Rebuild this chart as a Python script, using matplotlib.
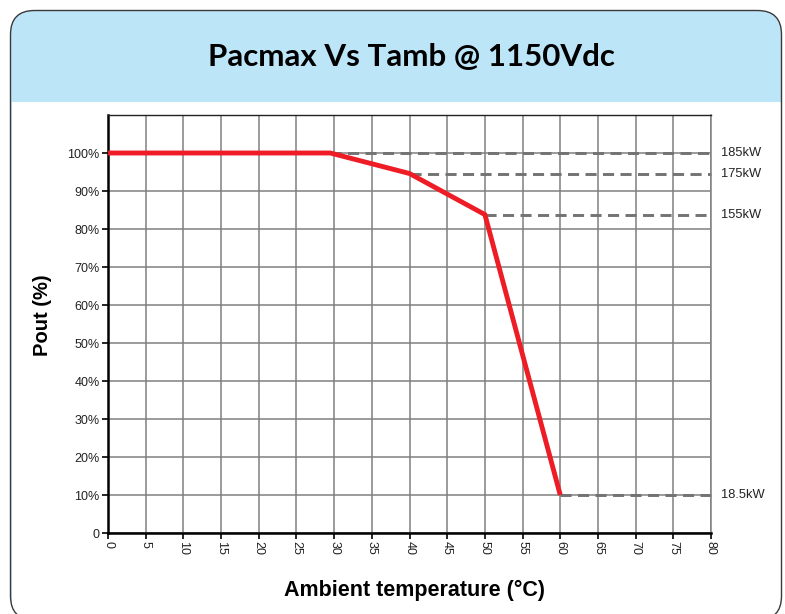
import matplotlib
matplotlib.use("Agg")
import matplotlib.pyplot as plt
from matplotlib.patches import FancyBboxPatch, Rectangle

# Derating curve data
temps = [0, 29.5, 40, 50, 60]
pout_pct = [100, 100, 94.6, 83.8, 10]

# Power plateaus (kW) and the temperature where each starts
plateau_kw = [185, 175, 155, 18.5]
plateau_start = [29.5, 40, 50, 60]
rated_kw = 185

x_ticks = list(range(0, 81, 5))
y_ticks = list(range(0, 101, 10))
y_tick_labels = ["0"] + [f"{v}%" for v in y_ticks[1:]]

title = "Pacmax Vs Tamb @ 1150Vdc"
xlabel = "Ambient temperature (°C)"
ylabel = "Pout (%)"

W, H = 785, 614
fig = plt.figure(figsize=(W / 100, H / 100), dpi=100)

def fx(px):
    return px / W

def fy(py):
    return 1 - py / H

# Framed panel with light-blue header
box_l, box_r, box_t, box_b = 10.5, 781.5, 10.5, 620
rad = 24
blue = FancyBboxPatch((fx(box_l), fy(box_b)), fx(box_r - box_l), (box_b - box_t) / H,
                      boxstyle=f"round,pad=0,rounding_size={rad / W}",
                      transform=fig.transFigure, facecolor="#BDE5F8",
                      edgecolor="none", zorder=-3, mutation_aspect=W / H)
fig.patches.append(blue)
fig.patches.append(Rectangle((fx(box_l + 1), 0), fx(box_r - box_l - 2), fy(102),
                             transform=fig.transFigure, facecolor="white",
                             edgecolor="none", zorder=-2))
outline = FancyBboxPatch((fx(box_l), fy(box_b)), fx(box_r - box_l), (box_b - box_t) / H,
                         boxstyle=f"round,pad=0,rounding_size={rad / W}",
                         transform=fig.transFigure, facecolor="none",
                         edgecolor="#3a3a3a", linewidth=1.0, zorder=-1,
                         mutation_aspect=W / H)
fig.patches.append(outline)

fig.text(fx(411), fy(57), title, ha="center", va="center",
         fontsize=22.5, fontweight="bold", family="Lato")

ax = fig.add_axes([fx(108), fy(533), fx(711 - 108), (533 - 115) / H])
ax.set_zorder(5)
ax.set_xlim(0, 80)
ax.set_ylim(0, 110)
ax.set_xticks(x_ticks)
ax.set_xticklabels([str(t) for t in x_ticks], rotation=-90,
                   fontsize=9, family="Liberation Sans", color="#222222")
ax.set_yticks(y_ticks)
ax.set_yticklabels(y_tick_labels, fontsize=9, family="Liberation Sans",
                   color="#222222")
ax.tick_params(axis="both", length=4, width=1.2, color="black", pad=2)
ax.grid(True, color="#808080", linewidth=1.1, zorder=1)
ax.set_axisbelow(True)

for side in ("left", "bottom"):
    ax.spines[side].set_linewidth(1.8)
    ax.spines[side].set_color("black")
ax.spines["top"].set_linewidth(1.0)
ax.spines["top"].set_color("#222222")
ax.spines["right"].set_linewidth(1.1)
ax.spines["right"].set_color("#808080")

# Dashed plateau levels with power labels
for kw, x0 in zip(plateau_kw, plateau_start):
    level = kw / rated_kw * 100
    ax.plot([x0, 80], [level, level], color="#737373", linewidth=2.1,
            dashes=(3.8, 2.2), zorder=2, clip_on=False)
    label = f"{kw:g}kW"
    ax.text(81.3, level, label, ha="left", va="center", fontsize=9.3,
            family="Liberation Sans", color="#222222")

ax.plot(temps, pout_pct, color="#EE1C25", linewidth=3.5, zorder=3,
        solid_capstyle="butt", solid_joinstyle="miter")

fig.text(fx(415), fy(590), xlabel, ha="center", va="center", fontsize=15.5,
         fontweight="bold", family="Liberation Sans")
fig.text(fx(43), fy(315), ylabel, ha="center", va="center", fontsize=14.5,
         fontweight="bold", family="Liberation Sans", rotation=90)

fig.savefig("out.png", dpi=100)
